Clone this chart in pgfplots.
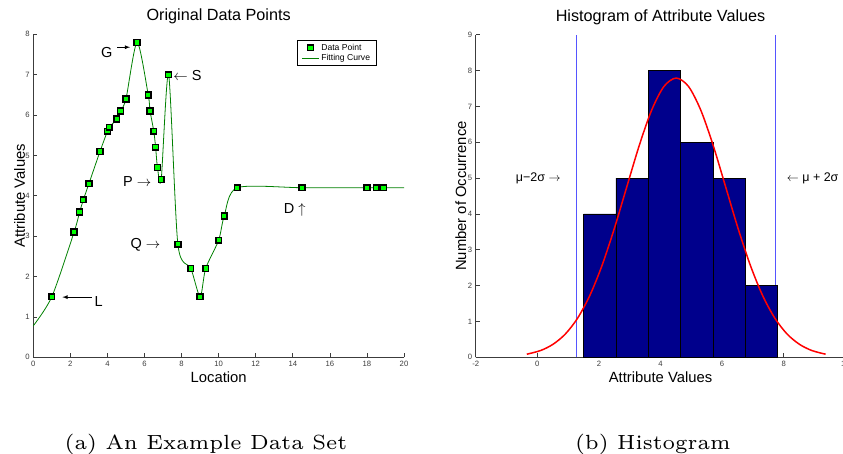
\documentclass[border=0pt]{standalone}
\usepackage{pgfplots}
\pgfplotsset{compat=1.18}
\usepackage{fontspec}
\setmainfont{Liberation Sans}
\newfontfamily\capfont{lmroman6-regular.otf}
\definecolor{mgreen}{rgb}{0,0.5,0}
\definecolor{mlime}{rgb}{0,1,0}
\definecolor{mnavy}{RGB}{0,0,140}
\definecolor{mblue}{RGB}{85,85,255}
\definecolor{axgray}{RGB}{60,60,60}
\pgfplotsset{mstyle/.style={
  scale only axis, axis lines=left,
  axis line style={-, axgray, line width=0.8pt},
  tick align=inside, major tick length=4pt,
  tick style={axgray, line width=0.6pt},
  ticklabel style={font=\fontsize{7.7}{8}\selectfont, text=axgray},
  /pgf/number format/assume math mode=true,
  title style={font=\fontsize{16.2}{18}\selectfont, at={(axis description cs:0.5,1)}, anchor=base, yshift=7.6pt},
  xlabel style={font=\fontsize{14.8}{16}\selectfont, at={(axis description cs:0.5,0)}, anchor=base, yshift=-25pt},
  ylabel style={font=\fontsize{14.8}{16}\selectfont, anchor=base},
  clip=false,
}}
\begin{document}
\begin{tikzpicture}
\path[use as bounding box] (0,0) rectangle (843pt,454pt);
\clip (0,0) rectangle (843pt,454pt);
% ---------------- left panel ----------------
\begin{axis}[mstyle,
  at={(33.3pt,96.7pt)}, anchor=south west,
  width=370.7pt, height=323pt,
  xmin=0, xmax=20, ymin=0, ymax=8,
  xtick={0,2,...,20}, ytick={0,1,...,8},
  title={Original Data Points},
  xlabel={Location}, ylabel={Attribute Values},
  ylabel style={at={(axis description cs:-0.0224,0.5)}},
  legend style={at={(axis cs:14.23,7.86)}, anchor=north west,
    font=\fontsize{8.6}{9.5}\selectfont, draw=black, line width=0.8pt,
    inner xsep=4pt, inner ysep=1.5pt, row sep=-1.5pt, legend cell align=left},
]
\addplot[only marks, mark=square*, mark size=2.9pt,
  mark options={fill=mlime, draw=black, line width=1.5pt}] coordinates {
(1.0,1.5)(2.2,3.1)(2.5,3.6)(2.7,3.9)(3.0,4.3)(3.6,5.1)(4.0,5.6)(4.1,5.7)
(4.5,5.9)(4.7,6.1)(5.0,6.4)(5.6,7.8)(6.2,6.5)(6.3,6.1)(6.5,5.6)(6.6,5.2)
(6.7,4.7)(6.9,4.4)(7.3,7.0)(7.8,2.8)(8.5,2.2)(9.0,1.5)(9.3,2.2)(10.0,2.9)
(10.3,3.5)(11.0,4.2)(14.5,4.2)(18.0,4.2)(18.5,4.2)(18.9,4.2)};
\addlegendentry{Data Point}
\addplot[mgreen, line width=0.8pt, smooth, tension=0.45] coordinates {
(0,0.78)(1.0,1.5)(2.2,3.1)(2.5,3.6)(2.7,3.9)(3.0,4.3)(3.6,5.1)(4.0,5.6)(4.1,5.7)
(4.5,5.9)(4.7,6.1)(5.0,6.4)(5.6,7.8)(6.2,6.5)(6.3,6.1)(6.5,5.6)(6.6,5.2)
(6.7,4.7)(6.9,4.4)(7.3,7.0)(7.8,2.8)(8.5,2.2)(9.0,1.5)(9.3,2.2)(10.0,2.9)
(10.3,3.5)(11.0,4.2)(14.5,4.2)(18.0,4.2)(18.5,4.2)(18.9,4.2)(20,4.2)};
\addlegendentry{Fitting Curve}
\begin{scope}[font=\fontsize{14.5}{16}\selectfont]
\node at (axis cs:3.96,7.56) {G};
\draw[-latex, line width=0.8pt] (axis cs:4.53,7.68) -- (axis cs:5.22,7.68);
\node at (axis cs:8.32,6.97) {$\leftarrow$ S};
\node at (axis cs:5.61,4.35) {P $\rightarrow$};
\node at (axis cs:6.05,2.78) {Q $\rightarrow$};
\node at (axis cs:14.1,3.66) {D $\uparrow$};
\node at (axis cs:3.53,1.38) {L};
\draw[-latex, line width=0.8pt] (axis cs:3.15,1.49) -- (axis cs:1.57,1.49);
\end{scope}
\end{axis}
% ---------------- right panel ----------------
\begin{axis}[mstyle,
  at={(475.7pt,96.7pt)}, anchor=south west,
  width=369.6pt, height=322.6pt,
  xmin=-2, xmax=10, ymin=0, ymax=9,
  xtick={-2,0,...,10}, ytick={0,1,...,9},
  title={Histogram of Attribute Values},
  xlabel={Attribute Values}, ylabel={Number of Occurrence},
  ylabel style={at={(axis description cs:-0.0262,0.5)}},
]
\addplot[mblue, line width=1pt] coordinates {(1.28,0)(1.28,9)};
\addplot[mblue, line width=1pt] coordinates {(7.74,0)(7.74,9)};
\addplot[ybar interval, fill=mnavy, draw=black, line width=0.6pt] coordinates {
(1.5,4)(2.55,5)(3.6,8)(4.65,6)(5.7,5)(6.75,2)(7.8,2)};
\addplot[red, line width=1.5pt, smooth] coordinates {
(-0.34,0.086)(0.11,0.190)(0.51,0.363)(0.91,0.649)(1.31,1.094)(1.71,1.733)
(2.11,2.582)(2.51,3.618)(2.91,4.769)(3.31,5.910)(3.71,6.890)(4.11,7.555)
(4.51,7.79)(4.91,7.555)(5.31,6.890)(5.71,5.910)(6.11,4.769)(6.51,3.618)
(6.91,2.582)(7.31,1.733)(7.71,1.094)(8.11,0.649)(8.51,0.363)(8.91,0.190)(9.36,0.086)};
\begin{scope}[font=\fontsize{12.5}{14}\selectfont]
\node at (axis cs:0.03,4.99) {μ−2σ $\rightarrow$};
\node at (axis cs:8.94,4.99) {$\leftarrow$ μ + 2σ};
\end{scope}
\end{axis}
% ---------------- captions ----------------
\node[anchor=base, font=\capfont\fontsize{20.5}{24}\selectfont] at (206pt,4.6pt) {(a) An Example Data Set};
\node[anchor=base, font=\capfont\fontsize{20.5}{24}\selectfont] at (652.8pt,4.6pt) {(b) Histogram};
\end{tikzpicture}
\end{document}
